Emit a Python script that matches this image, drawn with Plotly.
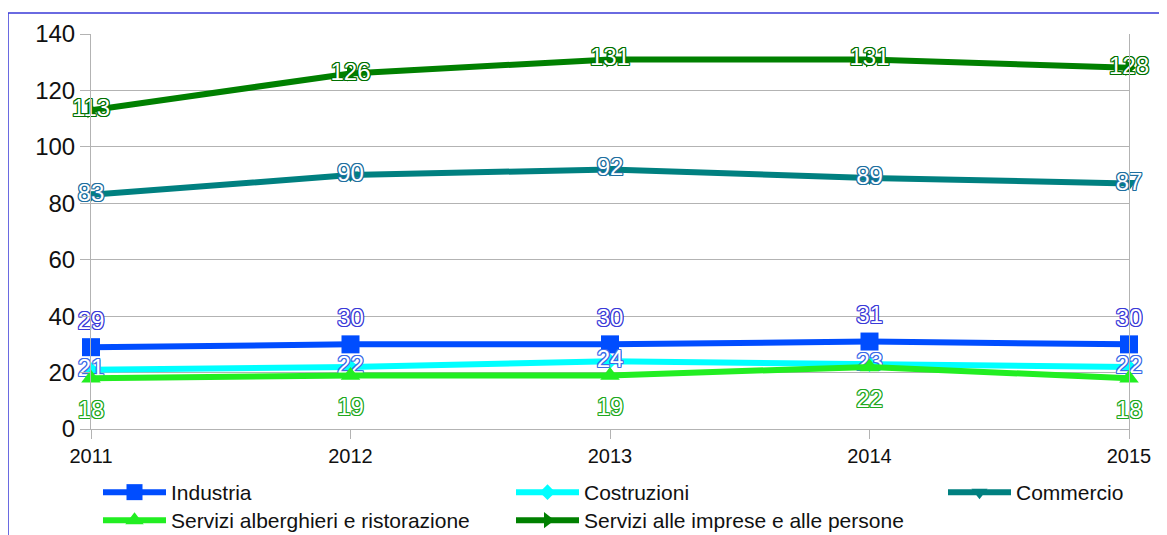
import plotly.graph_objects as go

years = [2011, 2012, 2013, 2014, 2015]
industria = [29, 30, 30, 31, 30]
costruzioni = [21, 22, 24, 23, 22]
commercio = [83, 90, 92, 89, 87]
alberghieri = [18, 19, 19, 22, 18]
imprese = [113, 126, 131, 131, 128]

series = [
    dict(name="Industria", y=industria, color="#004dff", outline="#3a3ad8",
         symbol="square", size=18, pos="top center", legend="legend", lsize=18),
    dict(name="Costruzioni", y=costruzioni, color="#00ffff", outline="#3a6ae8",
         symbol="diamond", size=12, pos="middle center", legend="legend2", lsize=12),
    dict(name="Commercio", y=commercio, color="#008080", outline="#1f6fa0",
         symbol="triangle-down", size=14, pos="middle center", legend="legend3", lsize=14),
    dict(name="Servizi alberghieri e ristorazione", y=alberghieri, color="#22ee22",
         outline="#1fa81f", symbol="triangle-up", size=17, pos="bottom center", legend="legend4", lsize=33),
    dict(name="Servizi alle imprese e alle persone", y=imprese, color="#008000",
         outline="#007000", symbol="triangle-right", size=14, pos="middle center", legend="legend5", lsize=14),
]

FONT = "Liberation Sans, Arial, sans-serif"
fig = go.Figure()
for s in series:
    o = s["outline"]
    shadow = f"1px 0 0 {o}, -1px 0 0 {o}, 0 1px 0 {o}, 0 -1px 0 {o}, 1px 1px 0 {o}, -1px -1px 0 {o}, 1px -1px 0 {o}, -1px 1px 0 {o}"
    fig.add_trace(go.Scatter(
        x=years, y=s["y"], name=s["name"], mode="lines+markers",
        line=dict(color=s["color"], width=6),
        marker=dict(symbol=s["symbol"], size=s["size"], color=s["color"]),
        cliponaxis=False, legend=s["legend"],
    ))
    # data labels (invisible marker sets the label offset)
    fig.add_trace(go.Scatter(
        x=years, y=s["y"], mode="markers+text", showlegend=False, hoverinfo="skip",
        marker=dict(size=s["lsize"], opacity=0),
        text=[str(v) for v in s["y"]], textposition=s["pos"],
        textfont=dict(family=FONT, size=24, color="white", shadow=shadow),
        cliponaxis=False,
    ))

# page body has an 8px margin: work in figure coords = reference coords - 8
OFF = 8
L, R, T, B = 91 - OFF, 1129 - OFF, 34 - OFF, 429 - OFF
W, H = 1167 - OFF, 535 - OFF
pw, ph = R - L, B - T

def px(xp):
    return (xp - OFF - L) / pw

def py(yp):
    return (B - (yp - OFF)) / ph

legend_common = dict(font=dict(family=FONT, size=21, color="#111111"),
                     bgcolor="rgba(0,0,0,0)", itemwidth=63, yanchor="top",
                     xanchor="left", orientation="v")

row1, row2 = 472, 500
fig.update_layout(
    width=W, height=H,
    margin=dict(l=L, r=W - R, t=T, b=H - B, autoexpand=False),
    paper_bgcolor="white", plot_bgcolor="white",
    font=dict(family=FONT, color="#111111"),
    showlegend=True,
    legend=dict(x=px(98), y=py(row1), **legend_common),
    legend2=dict(x=px(511), y=py(row1), **legend_common),
    legend3=dict(x=px(943), y=py(row1), **legend_common),
    legend4=dict(x=px(98), y=py(row2), **legend_common),
    legend5=dict(x=px(511), y=py(row2), **legend_common),
    xaxis=dict(range=[2011, 2015], tickvals=years, ticktext=[str(y) for y in years],
               showgrid=False, zeroline=False, showline=True, linecolor="#b3b3b3",
               ticks="outside", ticklen=9, tickcolor="#b3b3b3",
               tickfont=dict(family=FONT, size=20, color="#111111")),
    yaxis=dict(range=[0, 140], dtick=20, showgrid=True, gridcolor="#b3b3b3",
               zeroline=False, showline=True, mirror=True, linecolor="#b3b3b3",
               ticks="outside", ticklen=10, tickcolor="#b3b3b3",
               tickfont=dict(family=FONT, size=24, color="#111111")),
    shapes=[dict(type="rect", xref="paper", yref="paper",
                 x0=px(8), x1=px(1200), y0=py(600), y1=py(13),
                 line=dict(color="#3a3ad8", width=1.5), layer="below")],
)

fig.write_html("out.html")
